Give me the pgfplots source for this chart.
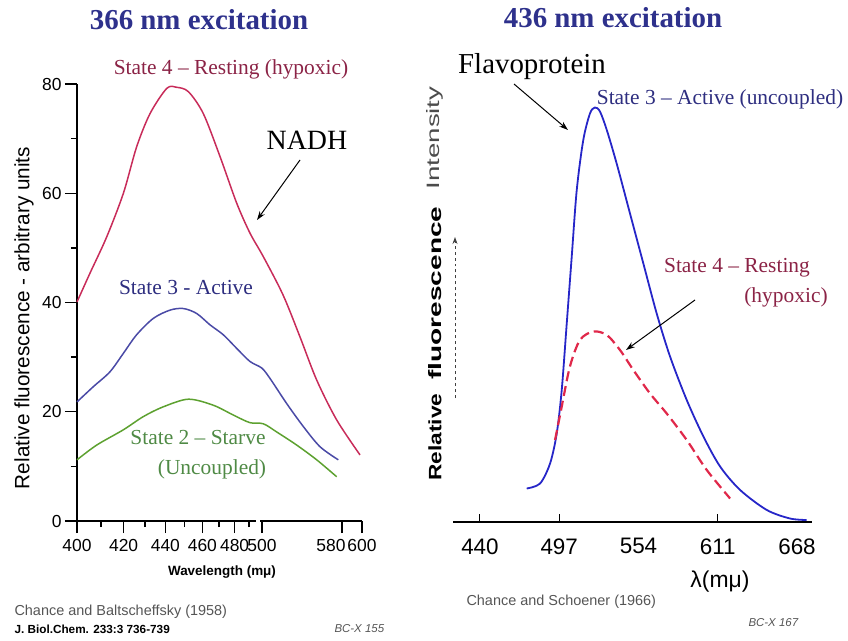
\documentclass[border=0pt]{standalone}
\usepackage{fontspec}
\setmainfont{Liberation Serif}
\setsansfont{Liberation Sans}
\usepackage{pgfplots}
\usepackage{pgfplotstable}
\pgfplotsset{compat=1.18}
\usetikzlibrary{arrows.meta}

\definecolor{titleblue}{RGB}{46,49,140}
\definecolor{sfourline}{RGB}{200,44,90}
\definecolor{sfourtext}{RGB}{139,35,70}
\definecolor{sthreeline}{RGB}{74,74,166}
\definecolor{sthreetext}{RGB}{46,46,128}
\definecolor{stwoline}{RGB}{93,161,48}
\definecolor{stwotext}{RGB}{79,138,69}
\definecolor{flavoblue}{RGB}{38,38,200}
\definecolor{flavored}{RGB}{224,40,74}
\definecolor{footgray}{RGB}{85,85,85}

\newcommand{\fs}[1]{\fontsize{#1}{#1}\selectfont}

% wavelength (m-mu) vs relative fluorescence, 366 nm excitation
\pgfplotstableread{
lam v
400 40.1
405.4 45.4
412.5 52.0
419.9 60.0
426.0 68.5
432.4 74.6
440.7 79.2
445.8 79.4
452.1 78.6
460.5 74.6
470.6 66.7
481.4 58.2
490.8 52.7
501.3 48.4
521 41.4
538 33.7
554.7 25.8
574.7 18.5
598 12.1
}\statefour
\pgfplotstableread{
lam v
400 21.8
406.8 24.6
413.9 27.3
419.9 30.7
426.0 34.1
434.0 37.1
442.3 38.6
449.3 38.9
456.7 38.0
464.5 35.9
472.6 34.1
481.4 31.6
490.8 29.2
499.8 28.0
508 26.1
524.7 21.5
541.3 17.3
558 13.6
576.3 11.2
}\statethree
\pgfplotstableread{
lam v
400 11.2
408.2 13.9
419.9 16.7
429.1 19.1
438.9 20.9
452.1 22.3
466.4 21.2
479.1 19.4
490.8 18.0
501.3 17.8
514.7 16.3
534.7 13.9
554.7 11.2
574.7 8.1
}\statetwo

% the original axis is broken at 500 and squeezed below it
\pgfplotsset{table/wl/.style={x expr={\thisrow{lam}<500.001 ? 2.45*(\thisrow{lam}-400)-0.006*(\thisrow{lam}-400)^2 : 185+(\thisrow{lam}-500)}, y=v}}

\begin{document}
\begin{tikzpicture}
\path[use as bounding box] (0,0) rectangle (848bp,-641bp);

\begin{axis}[
  at={(77bp,-521bp)}, anchor=south west,
  scale only axis, width=285bp, height=437bp,
  clip=false,
  xmin=0, xmax=285, ymin=0, ymax=80,
  axis x line=bottom, axis y line=left,
  axis line style={-, line width=1.4bp},
  tick style={line width=1.3bp, black},
  tick align=outside,
  major tick length=12bp, minor tick length=6bp,
  xtick={0,46.6,88.4,125.4,157.6,185,265,285},
  xticklabels={400,420,440,460,480,500,\hspace*{-22bp}580,600},
  minor xtick={23.9,68.1,107.5,142.1,171.9},
  ytick={0,20,40,60,80}, minor ytick={10,30,50,70},
  tick label style={font=\sffamily\fs{17.5}},
  xticklabel style={yshift=-3bp},
  /pgf/number format/assume math mode=true,
]
\addplot[sfourline, line width=1.5bp, smooth] table[wl] {\statefour};
\addplot[sthreeline, line width=1.5bp, smooth] table[wl] {\statethree};
\addplot[stwoline, line width=1.5bp, smooth] table[wl] {\statetwo};
\end{axis}

\begin{axis}[
  at={(453bp,-522bp)}, anchor=south west,
  scale only axis, width=359bp, height=437bp,
  clip=false,
  xmin=420.6, xmax=678.8, ymin=0, ymax=87.4,
  axis x line=bottom, axis y line=none,
  axis line style={-, line width=1.4bp},
  tick style={line width=1bp, black},
  tick align=inside, major tick length=8bp,
  xtick={440,497,611}, ytick=\empty,
  extra x ticks={554,668},
  extra x tick style={major tick length=0pt},
  tick label style={font=\sffamily\fs{22.5}},
  xticklabel style={yshift=-13bp},
  /pgf/number format/assume math mode=true,
  /pgf/number format/1000 sep={},
]
\addplot[flavoblue, line width=1.8bp, smooth] coordinates {
(473.6,6.7) (483.2,7.7) (490.4,11.7) (495.2,17.7) (498.8,26.4) (502.4,39.7)
(506.0,53.1) (509.6,66.4) (514.3,76.4) (519.1,81.7) (522.7,82.9) (526.3,82.1)
(531.2,78.4) (538.3,71.7) (547.9,61.7) (557.5,51.7) (567.1,41.7) (576.7,33.1)
(588.7,24.4) (600.7,17.1) (612.7,11.1) (627.1,6.4) (646.3,2.4) (663.0,0.7) (675.0,0.4)
};
\addplot[flavored, line width=2.2bp, smooth, dash pattern=on 10bp off 5bp] coordinates {
(494.0,16.4) (498.8,23.1) (504.7,31.1) (511.9,36.4) (521.5,38.1) (531.2,37.4)
(540.7,34.4) (550.3,30.4) (562.3,25.7) (574.3,21.7) (588.7,16.4) (603.1,10.4) (619.9,4.7)
};
\end{axis}

\begin{scope}[x=1bp, y=-1bp]
% axis break
\fill[white] (256,517) rectangle (259.5,525);
% titles
\node[font=\bfseries\fs{29}, text=titleblue] at (199,20) {366 nm excitation};
\node[font=\bfseries\fs{29}, text=titleblue] at (613,18) {436 nm excitation};
% left panel texts
\node[font=\fs{21.5}, text=sfourtext] at (231,69) {State 4 -- Resting (hypoxic)};
\node[font=\fs{28}] at (307,140) {NADH};
\draw[-{Stealth[length=9bp,width=6bp]}, line width=1bp] (300,160) -- (257,220);
\node[font=\fs{21.5}, text=sthreetext] at (186,288) {State 3 - Active};
\node[font=\fs{21.5}, text=stwotext] at (198,438) {State 2 -- Starve};
\node[font=\fs{21.5}, text=stwotext] at (212,469) {(Uncoupled)};
\node[rotate=90, font=\sffamily\fs{20.8}] at (24,318) {Relative fluorescence - arbitrary units};
\node[font=\sffamily\bfseries\fs{13.5}] at (222,572) {Wavelength (mμ)};
% right panel texts
\node[font=\fs{29}] at (532,67) {Flavoprotein};
\draw[-{Stealth[length=9bp,width=6bp]}, line width=1bp] (514,84) -- (568,130);
\node[font=\fs{21.5}, text=sthreetext] at (720,99) {State 3 -- Active (uncoupled)};
\node[font=\fs{21.5}, text=sfourtext] at (737,268) {State 4 -- Resting};
\node[font=\fs{21.5}, text=sfourtext] at (786,297) {(hypoxic)};
\draw[-{Stealth[length=9bp,width=6bp]}, line width=1bp] (695,300) -- (626,350);
\node[font=\sffamily\fs{23}] at (720,582) {λ(mμ)};
\node[rotate=90, inner sep=0pt] at (435,437) {\resizebox{87bp}{13bp}{\sffamily\bfseries Relative}};
\node[rotate=90, inner sep=0pt] at (435,293) {\resizebox{173bp}{13bp}{\sffamily\bfseries fluorescence}};
\node[rotate=90, inner sep=0pt, text=black!70] at (435,138) {\resizebox{103bp}{13bp}{\sffamily Intensity}};
\draw[dashed, black!75, line width=0.9bp, -{Stealth[length=7bp,width=5bp]}] (455,398) -- (455,237);
% footers
\node[anchor=west, font=\sffamily\fs{14.5}, text=footgray] at (11,612) {Chance and Baltscheffsky (1958)};
\node[anchor=west, font=\sffamily\bfseries\fs{11.8}] at (11,629) {J. Biol.Chem. 233:3 736-739};
\node[anchor=west, font=\sffamily\itshape\fs{11.5}, text=footgray] at (331,629) {BC-X 155};
\node[anchor=west, font=\sffamily\fs{14.5}, text=footgray] at (463,602) {Chance and Schoener (1966)};
\node[anchor=west, font=\sffamily\itshape\fs{11.5}, text=footgray] at (745,623) {BC-X 167};
\end{scope}
\end{tikzpicture}
\end{document}
